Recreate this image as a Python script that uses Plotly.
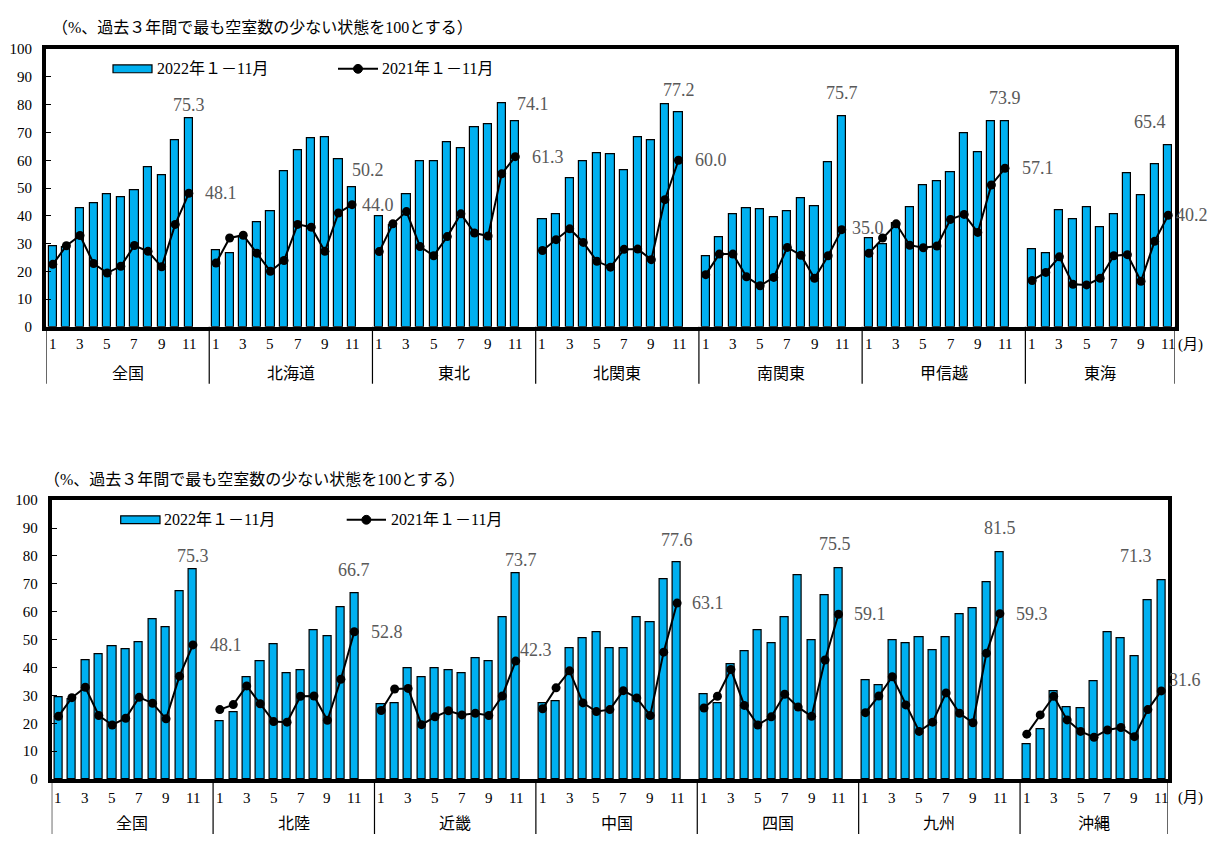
import plotly.graph_objects as go

W, H = 1208, 842

MONTH_TICKS = [1, 3, 5, 7, 9, 11]
TITLE = "（%、過去３年間で最も空室数の少ない状態を100とする）"
LEGEND_2022 = "2022年１－11月"
LEGEND_2021 = "2021年１－11月"

regions_top = ["全国", "北海道", "東北", "北関東", "南関東", "甲信越", "東海"]
regions_bottom = ["全国", "北陸", "近畿", "中国", "四国", "九州", "沖縄"]

# Monthly index values, Jan-Nov (bars: 2022, line: 2021)
zenkoku_2022 = [29.2, 28.8, 42.7, 44.7, 47.8, 46.7, 49.1, 57.5, 54.6, 67.4, 75.3]
zenkoku_2021 = [22.5, 29.2, 32.9, 22.8, 19.4, 21.8, 29.3, 27.2, 21.6, 36.9, 48.1]

hokkaido_2022 = [27.7, 26.5, 32.5, 37.7, 41.8, 55.9, 63.5, 67.8, 68.3, 60.4, 50.2]
hokkaido_2021 = [23.0, 32.0, 33.0, 26.5, 20.0, 23.9, 36.9, 35.9, 27.2, 41.0, 44.0]

tohoku_2022 = [39.8, 36.5, 47.9, 59.8, 59.6, 66.6, 64.5, 71.9, 73.1, 80.5, 74.1]
tohoku_2021 = [27.1, 37.1, 41.5, 28.9, 25.6, 32.5, 40.7, 33.8, 32.7, 55.1, 61.3]

kitakanto_2022 = [38.9, 40.4, 53.4, 59.8, 62.7, 62.2, 56.5, 68.2, 67.3, 80.2, 77.2]
kitakanto_2021 = [27.5, 31.4, 35.3, 30.4, 23.6, 21.5, 27.9, 28.0, 24.2, 45.8, 60.0]

minamikanto_2022 = [25.5, 32.2, 40.5, 42.8, 42.2, 39.4, 41.8, 46.4, 43.6, 59.4, 75.7]
minamikanto_2021 = [18.8, 26.2, 26.2, 18.0, 14.8, 17.8, 28.6, 25.8, 17.5, 25.6, 35.0]

koshinetsu_2022 = [31.8, 29.8, 37.5, 43.0, 51.1, 52.6, 55.8, 69.8, 62.9, 74.2, 73.9]
koshinetsu_2021 = [26.5, 32.0, 37.1, 29.4, 28.5, 29.1, 38.7, 40.5, 34.0, 51.1, 57.1]

tokai_2022 = [27.9, 26.4, 41.9, 38.8, 43.1, 36.0, 40.4, 55.5, 47.3, 58.4, 65.4]
tokai_2021 = [16.7, 19.6, 25.2, 15.3, 15.1, 17.5, 25.6, 26.0, 16.4, 30.8, 40.2]

hokuriku_2022 = [20.9, 24.1, 36.6, 42.4, 48.5, 38.1, 39.2, 53.5, 51.1, 61.7, 66.7]
hokuriku_2021 = [24.9, 26.7, 33.4, 27.0, 20.6, 20.4, 29.7, 29.8, 21.1, 35.8, 52.8]

kinki_2022 = [27.0, 27.3, 39.7, 36.7, 39.9, 39.1, 37.9, 43.2, 42.1, 58.2, 73.7]
kinki_2021 = [24.6, 32.3, 32.5, 19.5, 22.3, 24.5, 23.0, 23.6, 22.8, 29.8, 42.3]

chugoku_2022 = [27.1, 27.9, 46.9, 50.4, 52.6, 46.9, 46.9, 58.2, 56.3, 71.6, 77.6]
chugoku_2021 = [25.2, 32.7, 38.8, 27.3, 24.2, 24.9, 31.7, 29.1, 22.8, 45.5, 63.1]

shikoku_2022 = [30.3, 27.3, 41.3, 46.0, 53.3, 48.7, 57.9, 73.0, 49.8, 66.0, 75.5]
shikoku_2021 = [25.5, 29.7, 39.3, 26.4, 19.4, 22.3, 30.4, 25.8, 22.5, 42.7, 59.1]

kyushu_2022 = [35.4, 33.7, 49.8, 48.6, 50.9, 46.2, 50.8, 59.2, 61.2, 70.7, 81.5]
kyushu_2021 = [23.8, 29.8, 36.7, 26.6, 17.1, 20.4, 30.9, 23.6, 20.2, 45.1, 59.3]

okinawa_2022 = [12.4, 17.8, 31.5, 25.9, 25.5, 35.0, 52.5, 50.7, 44.1, 64.2, 71.3]
okinawa_2021 = [16.1, 23.0, 29.7, 21.2, 17.1, 15.0, 17.6, 18.5, 15.2, 24.9, 31.6]

bars_top = [zenkoku_2022, hokkaido_2022, tohoku_2022, kitakanto_2022,
            minamikanto_2022, koshinetsu_2022, tokai_2022]
lines_top = [zenkoku_2021, hokkaido_2021, tohoku_2021, kitakanto_2021,
             minamikanto_2021, koshinetsu_2021, tokai_2021]
bars_bottom = [zenkoku_2022, hokuriku_2022, kinki_2022, chugoku_2022,
               shikoku_2022, kyushu_2022, okinawa_2022]
lines_bottom = [zenkoku_2021, hokuriku_2021, kinki_2021, chugoku_2021,
                shikoku_2021, kyushu_2021, okinawa_2021]

# pixel nudges for the November value labels (dx, dy)
bar_lab_top = [(0, 10), (16, 14), (18, 14), (0, 20), (0, 21), (0, 21), (-18, 20)]
line_lab_top = [(32, 0), (26, 0), (33, 0), (32, 0), (26, 2), (33, 0), (24, 0)]
bar_lab_bottom = [(0, 10), (0, 20), (5, 11), (0, 20), (-3, 21), (0, 21), (-25, 21)]
line_lab_bottom = [(33, 0), (33, 0), (20, 11), (31, 0), (32, 0), (32, 0), (24, 11)]

BAR_COLOR = "#00B0F0"
LABEL_GRAY = "#595959"
FONT = "Liberation Serif, Noto Sans CJK JP, serif"
SLOTS = 12  # 11 months + one empty slot between regions


def px_x(x):
    return x / W


def px_y(y):
    return 1 - y / H


def slot(g, m):
    return g * SLOTS + (m - 1)


def text_at(x, y, text, size, xref="paper", yref="paper", xanchor="center", **kw):
    return dict(x=x, y=y, xref=xref, yref=yref, text=text, showarrow=False,
                xanchor=xanchor, yanchor="middle",
                font=dict(family=FONT, size=size, color=kw.pop("color", "black")), **kw)


fig = go.Figure()
annotations = []
shapes = []

panels = [
    dict(xa="x", ya="y", regions=regions_top, bars=bars_top, lines=lines_top,
         blab=bar_lab_top, llab=line_lab_top,
         left=46, right=1175, top=42, base=325,
         title_xy=(50, 20), leg_bar=(113, 152, 62), leg_text1=155,
         leg_line=(338, 378, 62), leg_text2=380,
         month_y=343, region_y=373, sep_bottom=383, unit_xy=(1190, 343)),
    dict(xa="x2", ya="y2", regions=regions_bottom, bars=bars_bottom, lines=lines_bottom,
         blab=bar_lab_bottom, llab=line_lab_bottom,
         left=51.7, right=1168, top=501.7, base=786,
         title_xy=(42, 481), leg_bar=(120.7, 160, 521.7), leg_text1=162,
         leg_line=(346.7, 386, 521.7), leg_text2=389,
         month_y=805, region_y=831, sep_bottom=842, unit_xy=(1190, 805)),
]

layout_axes = {}
for i, p in enumerate(panels):
    xs, ys_bar = [], []
    lx, ly = [], []
    for g, (bv, lv) in enumerate(zip(p["bars"], p["lines"])):
        for m in range(1, 12):
            xs.append(slot(g, m))
            ys_bar.append(bv[m - 1])
            lx.append(slot(g, m))
            ly.append(lv[m - 1])
        lx.append(None)
        ly.append(None)

    fig.add_trace(go.Bar(
        x=xs, y=ys_bar, xaxis=p["xa"], yaxis=p["ya"], width=0.6,
        marker=dict(color=BAR_COLOR, line=dict(color="black", width=1.2)),
        name=LEGEND_2022, showlegend=False, hoverinfo="x+y"))
    fig.add_trace(go.Scatter(
        x=lx, y=ly, xaxis=p["xa"], yaxis=p["ya"], mode="lines+markers",
        line=dict(color="black", width=2), marker=dict(color="black", size=9),
        connectgaps=False, name=LEGEND_2021, showlegend=False))

    # November value labels
    for g in range(7):
        bv = p["bars"][g][10]
        lv = p["lines"][g][10]
        dx, dy = p["blab"][g]
        annotations.append(text_at(slot(g, 11), bv, f"{bv:.1f}", 18,
                                   xref=p["xa"], yref=p["ya"], xshift=dx, yshift=dy + 3,
                                   color=LABEL_GRAY))
        dx, dy = p["llab"][g]
        annotations.append(text_at(slot(g, 11), lv, f"{lv:.1f}", 18,
                                   xref=p["xa"], yref=p["ya"], xshift=dx, yshift=dy,
                                   color=LABEL_GRAY))

    # region boundaries and names under the axis
    bounds = [g * SLOTS - 0.5 for g in range(7)] + [6 * SLOTS + 10.5]
    for b in bounds:
        shapes.append(dict(type="line", xref=p["xa"], yref="paper",
                           x0=b, x1=b, y0=px_y(p["base"]), y1=px_y(p["sep_bottom"]),
                           line=dict(color="black", width=1.2)))
    for g, name in enumerate(p["regions"]):
        annotations.append(text_at((bounds[g] + bounds[g + 1]) / 2, px_y(p["region_y"]),
                                   name, 16, xref=p["xa"]))
    for g in range(7):
        for m in MONTH_TICKS:
            annotations.append(text_at(slot(g, m), px_y(p["month_y"]), str(m), 15,
                                       xref=p["xa"]))
    annotations.append(text_at(px_x(p["unit_xy"][0]), px_y(p["unit_xy"][1]), "(月)", 15))

    # title above the frame
    annotations.append(text_at(px_x(p["title_xy"][0]), px_y(p["title_xy"][1]), TITLE, 16,
                               xanchor="left"))

    # legend drawn inside the frame
    x0, x1, yc = p["leg_bar"]
    shapes.append(dict(type="rect", xref="paper", yref="paper",
                       x0=px_x(x0), x1=px_x(x1), y0=px_y(yc - 4), y1=px_y(yc + 4),
                       fillcolor=BAR_COLOR, line=dict(color="black", width=1.2)))
    annotations.append(text_at(px_x(p["leg_text1"]), px_y(yc), LEGEND_2022, 16,
                               xanchor="left"))
    x0, x1, yc = p["leg_line"]
    shapes.append(dict(type="line", xref="paper", yref="paper",
                       x0=px_x(x0), x1=px_x(x1), y0=px_y(yc), y1=px_y(yc),
                       line=dict(color="black", width=2)))
    xm = (x0 + x1) / 2
    shapes.append(dict(type="circle", xref="paper", yref="paper",
                       x0=px_x(xm - 4.5), x1=px_x(xm + 4.5),
                       y0=px_y(yc + 4.5), y1=px_y(yc - 4.5),
                       fillcolor="black", line=dict(color="black", width=1)))
    annotations.append(text_at(px_x(p["leg_text2"]), px_y(yc), LEGEND_2021, 16,
                               xanchor="left"))

    suffix = "" if i == 0 else "2"
    layout_axes["xaxis" + suffix] = dict(
        domain=[px_x(p["left"]), px_x(p["right"])], range=[-0.5, 6 * SLOTS + 10.5],
        anchor="y" + suffix, showticklabels=False, ticks="", showgrid=False,
        zeroline=False, showline=True, linecolor="black", linewidth=4, mirror=True,
        fixedrange=True)
    layout_axes["yaxis" + suffix] = dict(
        domain=[px_y(p["base"]), px_y(p["top"])], range=[0, 100],
        anchor="x" + suffix, tickvals=list(range(0, 101, 10)), ticks="inside",
        ticklen=5, tickwidth=1, tickcolor="black", showgrid=False, zeroline=False,
        showline=True, linecolor="black", linewidth=4, mirror=True,
        ticklabelstandoff=7,
        tickfont=dict(family=FONT, size=15, color="black"), fixedrange=True)

fig.update_layout(
    width=W, height=H, autosize=False,
    margin=dict(l=0, r=0, t=0, b=0),
    paper_bgcolor="white", plot_bgcolor="white",
    bargap=0, showlegend=False,
    font=dict(family=FONT, size=15, color="black"),
    annotations=annotations, shapes=shapes,
    **layout_axes,
)

fig.write_html("out.html")
